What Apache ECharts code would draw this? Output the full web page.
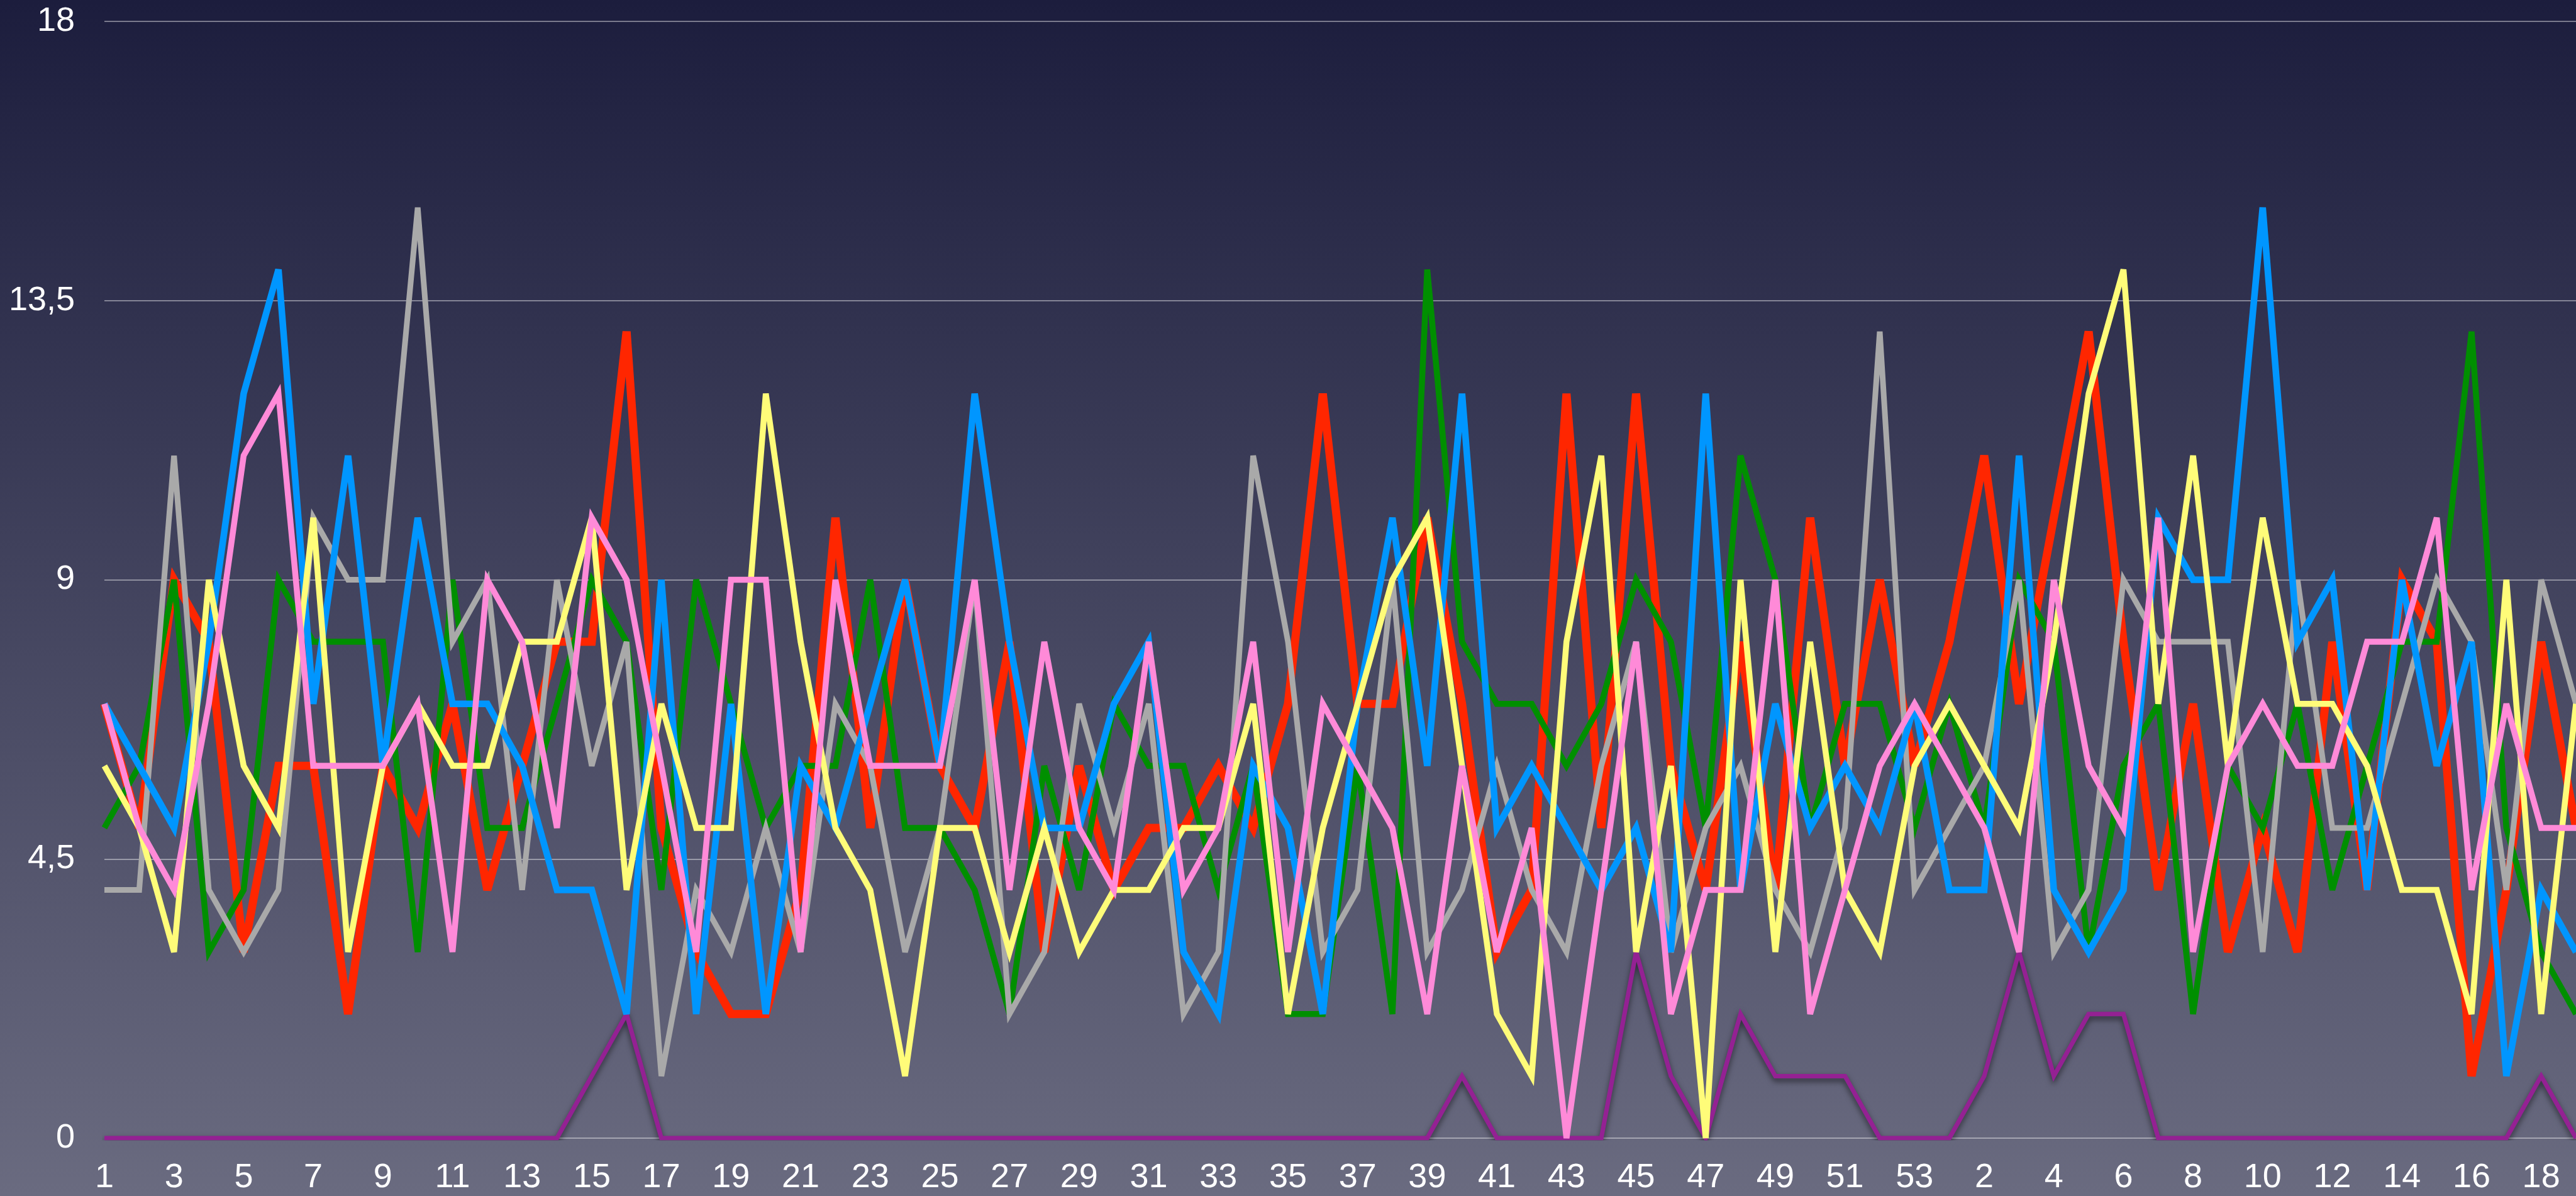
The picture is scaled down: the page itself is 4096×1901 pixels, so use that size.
<!DOCTYPE html>
<html>
<head>
<meta charset="utf-8">
<script src="https://cdn.jsdelivr.net/npm/echarts@6/dist/echarts.min.js"></script>
<style>
  html, body { margin: 0; padding: 0; overflow: hidden; background: #1c1d3c; }
  #chart { width: 4096px; height: 1901px; }
</style>
</head>
<body>
<div id="chart"></div>
<script>
// Week numbers: a full year of 53 weeks, then the first weeks of the next one
const weeks = [
  '1','2','3','4','5','6','7','8','9','10','11','12','13','14','15','16','17','18','19','20',
  '21','22','23','24','25','26','27','28','29','30','31','32','33','34','35','36','37','38','39','40',
  '41','42','43','44','45','46','47','48','49','50','51','52','53',
  '1','2','3','4','5','6','7','8','9','10','11','12','13','14','15','16','17','18','19'
];

const yTickLabels = ['0', '4,5', '9', '13,5', '18'];

const redSeries = [
  7,5,9,8,3,6,6,2,6,5,7,4,6,8,8,13,5,3,2,2,4,10,5,9,6,5,8,3,6,4,
  5,5,6,5,7,12,7,7,10,7,3,4,12,5,12,6,4,8,4,10,6,9,6,
  8,11,7,10,13,8,4,7,3,5,3,8,4,9,8,1,4,8,5
];
const greenSeries = [
  5,6,9,3,4,9,8,8,8,3,9,5,5,7,9,8,4,9,7,5,6,6,9,5,5,4,2,6,4,7,
  6,6,4,6,2,2,6,2,14,8,7,7,6,7,9,8,5,11,9,5,7,7,5,
  7,5,9,8,3,6,7,2,6,5,7,4,6,8,8,13,5,3,2
];
const blueSeries = [
  7,6,5,8,12,14,7,11,6,10,7,7,6,4,4,2,9,2,7,2,6,5,7,9,6,12,8,5,5,7,
  8,3,2,6,5,2,7,10,6,12,5,6,5,4,5,3,12,4,7,5,6,5,7,
  4,4,11,4,3,4,10,9,9,15,8,9,4,9,6,8,1,4,3
];
const graySeries = [
  4,4,11,4,3,4,10,9,9,15,8,9,4,9,6,8,1,4,3,5,3,7,6,3,5,9,2,3,7,5,
  7,2,3,11,8,3,4,9,3,4,6,4,3,6,8,3,5,6,4,3,5,13,4,
  5,6,9,3,4,9,8,8,8,3,9,5,5,7,9,8,4,9,7
];
const yellowSeries = [
  6,5,3,9,6,5,10,3,6,7,6,6,8,8,10,4,7,5,5,12,8,5,4,1,5,5,3,5,3,4,
  4,5,5,7,2,5,7,9,10,6,2,1,8,11,3,6,0,9,3,8,4,3,6,
  7,6,5,8,12,14,7,11,6,10,7,7,6,4,4,2,9,2,7
];
const pinkSeries = [
  7,5,4,7,11,12,6,6,6,7,3,9,8,5,10,9,6,3,9,9,3,9,6,6,6,9,4,8,5,4,
  8,4,5,8,3,7,6,5,2,6,3,5,0,4,8,2,4,4,9,2,4,6,7,
  6,5,3,9,6,5,10,3,6,7,6,6,8,8,10,4,7,5,5
];
const purpleSeries = [
  0,0,0,0,0,0,0,0,0,0,0,0,0,0,1,2,0,0,0,0,0,0,0,0,0,0,0,0,0,0,
  0,0,0,0,0,0,0,0,0,1,0,0,0,0,3,1,0,2,1,1,1,0,0,
  0,1,3,1,2,2,0,0,0,0,0,0,0,0,0,0,0,1,0
];

const chart = echarts.init(document.getElementById('chart'), null, { renderer: 'canvas' });

const FONT = '"Liberation Sans", Arial, Helvetica, sans-serif';

function line(name, data, color, width, extra) {
  return Object.assign({
    name: name,
    type: 'line',
    data: data,
    showSymbol: false,
    symbol: 'none',
    smooth: false,
    lineStyle: { color: color, width: width, join: 'miter', miterLimit: 4, cap: 'butt' },
    itemStyle: { color: color },
    emphasis: { disabled: true },
    animation: false
  }, extra || {});
}

chart.setOption({
  animation: false,
  backgroundColor: new echarts.graphic.LinearGradient(0, 0, 0, 1, [
    { offset: 0, color: '#1c1d3d' },
    { offset: 1, color: '#6a6b80' }
  ]),
  grid: { left: 166, top: 34, width: 3940, height: 1775, containLabel: false },
  xAxis: {
    type: 'category',
    data: weeks,
    boundaryGap: false,
    axisLine: { show: false },
    axisTick: { show: false },
    splitLine: { show: false },
    axisLabel: {
      color: '#ffffff',
      fontFamily: FONT,
      fontSize: 54,
      margin: 36,
      interval: 1
    }
  },
  yAxis: {
    type: 'value',
    min: 0,
    max: 18,
    interval: 4.5,
    axisLine: { show: false },
    axisTick: { show: false },
    splitLine: { show: true, lineStyle: { color: 'rgba(255,255,255,0.55)', width: 1.5 } },
    axisLabel: {
      color: '#ffffff',
      fontFamily: FONT,
      fontSize: 54,
      margin: 47,
      formatter: function (v) { return yTickLabels[Math.round(v / 4.5)]; }
    }
  },
  series: [
    line('Plum', purpleSeries, '#942193', 7, {
      lineStyle: { color: '#942193', width: 7, join: 'miter', miterLimit: 4,
        shadowColor: 'rgba(0,0,0,0.55)', shadowBlur: 10, shadowOffsetY: 5 }
    }),
    line('Red', redSeries, '#ff2600', 13),
    line('Green', greenSeries, '#008f00', 9.5),
    line('Gray', graySeries, '#a9a9a9', 9),
    line('Blue', blueSeries, '#0096ff', 10.5),
    line('Yellow', yellowSeries, '#fffc79', 9.5),
    line('Pink', pinkSeries, '#ff8ad8', 9.5)
  ]
});
</script>
</body>
</html>
